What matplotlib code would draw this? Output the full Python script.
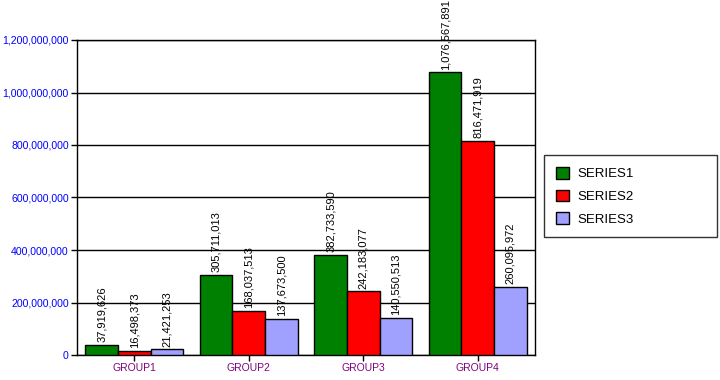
import matplotlib
matplotlib.use("Agg")
import matplotlib.pyplot as plt
import numpy as np

groups = ["GROUP1", "GROUP2", "GROUP3", "GROUP4"]
series_names = ["SERIES1", "SERIES2", "SERIES3"]
series1 = [37919626, 305711013, 382733590, 1076567891]
series2 = [16498373, 168037513, 242183077, 816471919]
series3 = [21421253, 137673500, 140550513, 260095972]
colors = ["#008000", "#FF0000", "#A0A0FF"]
yticks = [0, 200000000, 400000000, 600000000, 800000000, 1000000000, 1200000000]

plt.rcParams['font.family'] = ['Liberation Sans', 'DejaVu Sans']
fig = plt.figure(figsize=(7.2, 3.8), dpi=100)
ax = fig.add_axes([77/720, 1-355/380, (535-77)/720, (355-40)/380])

x = np.arange(len(groups))
w = 0.284
for i, (vals, c, name) in enumerate(zip([series1, series2, series3], colors, series_names)):
    pos = x + (i - 1) * w
    ax.bar(pos, vals, width=w, color=c, edgecolor="black", linewidth=1, label=name, zorder=3)
    for p, v in zip(pos, vals):
        ax.annotate(f"{v:,}", (p, v), xytext=(0, 2), textcoords="offset points",
                    rotation=90, ha="center", va="bottom", fontsize=8, zorder=4,
                    annotation_clip=False)

ax.set_xlim(-0.5, 3.5)
ax.set_ylim(0, 1200000000)
ax.set_yticks(yticks)
ax.set_yticklabels([f"{t:,}" for t in yticks], color="#0000FF", fontsize=7.6)
ax.set_xticks(x)
ax.set_xticklabels(groups, color="#800080", fontsize=7.5)
ax.yaxis.grid(True, color="black", linewidth=1, zorder=0)
ax.set_axisbelow(True)
ax.tick_params(axis="both", length=4, width=1, color="black", pad=2)
for s in ax.spines.values():
    s.set_linewidth(1)

leg = fig.legend(loc="upper left",
                 bbox_to_anchor=(544/720, 1-240/380, (717-544)/720, (240-155)/380),
                 mode="expand", frameon=True,
                 fancybox=False, edgecolor="black", fontsize=9.5, handlelength=1.0,
                 handleheight=1.0, borderpad=0.9, labelspacing=0.7, handletextpad=0.6,
                 borderaxespad=0)
leg.get_frame().set_linewidth(1)

fig.savefig("out.png", dpi=100)
